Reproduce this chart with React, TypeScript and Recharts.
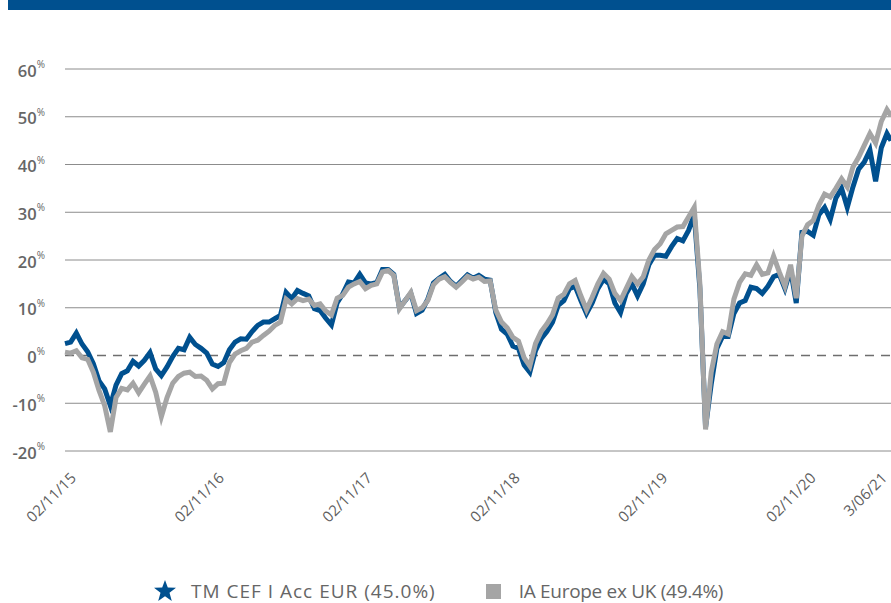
import React from 'react';
import { LineChart, Line, XAxis, YAxis, ReferenceLine } from 'recharts';

// fortnightly points from 02/11/15, last point is 3/06/21
const FUND = [
  2.5, 2.8, 4.7, 2.4, 0.8, -1.7, -5.3, -7.0, -10.5, -6.2, -3.8, -3.2, -1.2, -2.2, -1.0, 0.6, -2.8, -4.2, -2.4, -0.2, 1.5, 1.2, 3.8, 2.3, 1.5, 0.5, -1.8,
  -2.3, -1.5, 1.2, 2.8, 3.5, 3.4, 5.0, 6.3, 7.0, 7.0, 7.7, 8.4, 13.2, 11.9, 13.6, 13.0, 12.5, 9.8, 9.4, 7.8, 6.4, 11.0, 12.9, 15.4, 15.2, 17.0,
  15.2, 15.0, 15.3, 18.0, 18.0, 17.0, 10.0, 11.5, 13.0, 8.8, 9.5, 11.8, 15.2, 16.2, 17.0, 15.5, 14.5, 15.7, 16.9, 16.2, 16.8, 16.0, 15.8, 9.0, 5.5, 4.5, 2.0,
  1.5, -2.0, -3.5, 1.0, 3.5, 5.0, 7.0, 10.5, 11.5, 14.0, 14.5, 11.5, 8.8, 11.0, 14.0, 16.0, 15.0, 11.0, 9.0, 13.0, 15.0, 12.5, 15.0, 19.0, 21.0, 21.0, 20.8,
  22.8, 24.5, 24.0, 26.2, 29.5, 14.0, -15.0, -6.0, 1.5, 4.0, 4.0, 8.8, 11.0, 11.5, 14.3, 14.0, 13.0, 14.5, 16.5, 17.0, 14.0, 18.0, 11.0, 25.8, 26.0, 25.2,
  29.5, 31.0, 28.5, 33.0, 35.0, 31.0, 35.3, 39.0, 40.5, 43.0, 36.5, 43.5, 46.5, 45.0,
];

const SECTOR = [
  0.7, 0.5, 1.0, -0.5, -0.8, -3.5, -7.3, -10.5, -16.0, -8.8, -6.9, -7.2, -5.8, -7.8, -6.0, -4.3, -7.7, -12.8, -8.8, -5.8, -4.4, -3.7, -3.5, -4.4, -4.3, -5.2, -7.0,
  -5.9, -5.8, -1.5, 0.3, 1.0, 1.5, 2.8, 3.2, 4.2, 5.1, 6.3, 7.0, 11.8, 10.8, 11.9, 11.5, 11.8, 10.5, 10.8, 9.3, 8.5, 12.0, 12.6, 14.3, 15.0, 15.5,
  14.0, 14.7, 15.0, 17.5, 17.8, 16.8, 9.8, 11.5, 13.2, 9.4, 10.0, 11.5, 14.8, 16.0, 16.5, 15.3, 14.3, 15.4, 16.6, 16.0, 16.4, 15.5, 15.6, 9.5, 7.0, 5.8, 3.8,
  3.0, -0.5, -2.2, 2.5, 5.0, 6.6, 8.5, 12.0, 12.8, 15.0, 15.7, 12.5, 9.6, 12.2, 15.0, 17.2, 16.0, 13.0, 11.5, 14.0, 16.5, 15.0, 16.5, 20.0, 22.2, 23.4, 25.5,
  26.2, 26.9, 27.0, 29.0, 31.0, 15.0, -15.5, -3.5, 2.4, 5.0, 4.5, 11.8, 15.3, 17.1, 16.8, 19.0, 17.0, 17.3, 20.8, 17.5, 14.5, 19.0, 12.0, 25.0, 27.4, 28.3,
  31.5, 33.8, 33.2, 35.0, 37.0, 35.3, 39.5, 41.5, 44.0, 46.5, 44.5, 49.0, 51.5, 50.2,
];

const LAST_DAY = 2040;
const DAYS = FUND.map((_, i) => Math.min(i * 14, LAST_DAY));

const X_TICKS = [0, 366, 731, 1096, 1461, 1827, 2040];
const X_LABELS = ['02/11/15', '02/11/16', '02/11/17', '02/11/18', '02/11/19', '02/11/20', '3/06/21'];
const Y_TICKS = [-20, -10, 0, 10, 20, 30, 40, 50, 60];
const GRID = Y_TICKS.filter(v => v !== 0);

const BLUE = '#00508f';
const GREY = '#a5a5a5';
const FONT = '"Open Sans", "Noto Sans", sans-serif';

const data = DAYS.map((d, i) => ({ day: d, fund: FUND[i], sector: SECTOR[i] }));

const YTick = (props: any) => {
  const { x, y, payload } = props;
  return (
    <text x={x - 12} y={y + 1} textAnchor="end" dominantBaseline="central" fill="#666" fontFamily={FONT} fontSize={16.5} fontWeight={600}>
      {payload.value}
      <tspan fontSize={10} fontWeight={400} dy={-6}>%</tspan>
    </text>
  );
};

const XTick = (props: any) => {
  const { x, y, payload } = props;
  const idx = X_TICKS.indexOf(payload.value);
  const dx = idx === X_TICKS.length - 1 ? -3 : 12;
  return (
    <g transform={`translate(${x + dx},${y + 20})`}>
      <text textAnchor="end" transform="rotate(-45)" fill="#606060" fontFamily={FONT} fontSize={15}>
        {X_LABELS[idx]}
      </text>
    </g>
  );
};

const Star = () => (
  <svg width={24} height={24} viewBox="0 0 24 24" style={{ display: 'block' }}>
    <polygon fill={BLUE} points="12,1 14.8,8.6 23,8.8 16.5,13.8 18.8,22 12,17.2 5.2,22 7.5,13.8 1,8.8 9.2,8.6" />
  </svg>
);

export default function App() {
  return (
    <div style={{ position: 'absolute', left: 0, top: 0, width: 891, height: 603, background: '#fff', overflow: 'hidden' }}>
      <div style={{ position: 'absolute', left: 8, top: 0, width: 883, height: 10, background: BLUE }} />
      <LineChart width={891} height={603} data={data} margin={{ top: 69, right: 0, bottom: 0, left: 0 }}>
        {GRID.map(v => (
          <ReferenceLine key={v} y={v} stroke="#8c8c8c" strokeWidth={1} ifOverflow="extendDomain" />
        ))}
        <ReferenceLine y={0} stroke="#6e6e6e" strokeWidth={1.3} strokeDasharray="9 7" />
        <XAxis
          dataKey="day"
          type="number"
          domain={[0, LAST_DAY]}
          ticks={X_TICKS}
          interval={0}
          height={152}
          axisLine={false}
          tickLine={false}
          tick={<XTick />}
        />
        <YAxis
          type="number"
          domain={[-20, 60]}
          ticks={Y_TICKS}
          interval={0}
          width={65}
          axisLine={false}
          tickLine={false}
          tick={<YTick />}
        />
        <Line dataKey="fund" type="linear" stroke={BLUE} strokeWidth={5} dot={false} isAnimationActive={false} />
        <Line dataKey="sector" type="linear" stroke={GREY} strokeWidth={5} dot={false} isAnimationActive={false} />
      </LineChart>
      <div
        style={{
          position: 'absolute', left: 153, top: 578, display: 'flex', alignItems: 'center',
          fontFamily: FONT, fontSize: 19, lineHeight: '26px', color: '#666', whiteSpace: 'nowrap',
        }}
      >
        <Star />
        <span style={{ marginLeft: 14, letterSpacing: 1 }}>TM CEF I Acc EUR (45.0%)</span>
        <span style={{ display: 'inline-block', width: 15, height: 15, background: GREY, marginLeft: 50 }} />
        <span style={{ marginLeft: 18, letterSpacing: -0.3 }}>IA Europe ex UK (49.4%)</span>
      </div>
    </div>
  );
}
